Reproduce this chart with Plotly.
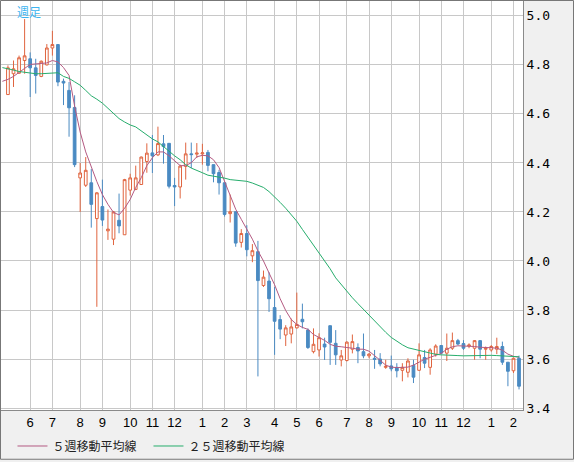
import pandas as pd
import plotly.graph_objects as go

# weekly candles (Friday dated)
opens = [4.679, 4.764, 4.766, 4.818, 4.825, 4.788, 4.753, 4.800, 4.869, 4.883,
         4.733, 4.696, 4.626, 4.339, 4.309, 4.319, 4.173, 4.222, 4.123, 4.089,
         4.166, 4.107, 4.289, 4.292, 4.312, 4.406, 4.441, 4.433, 4.478, 4.480,
         4.308, 4.302, 4.386, 4.437, 4.436, 4.437, 4.443, 4.393, 4.361, 4.319,
         4.193, 4.201, 4.076, 4.112, 4.021, 4.038, 3.900, 3.918, 3.810, 3.761,
         3.698, 3.702, 3.727, 3.762, 3.718, 3.630, 3.637, 3.661, 3.736, 3.664,
         3.596, 3.594, 3.640, 3.647, 3.630, 3.613, 3.603, 3.600, 3.566, 3.572,
         3.566, 3.554, 3.546, 3.574, 3.554, 3.606, 3.566, 3.620, 3.655, 3.624,
         3.644, 3.675, 3.663, 3.653, 3.644, 3.675, 3.640, 3.637, 3.640, 3.651,
         3.587, 3.552, 3.603]
highs = [4.798, 4.818, 4.838, 4.987, 4.851, 4.825, 4.818, 4.885, 4.939, 4.883,
         4.744, 4.730, 4.676, 4.400, 4.424, 4.375, 4.281, 4.332, 4.210, 4.204,
         4.275, 4.335, 4.356, 4.389, 4.426, 4.480, 4.514, 4.548, 4.514, 4.480,
         4.339, 4.393, 4.483, 4.483, 4.481, 4.478, 4.453, 4.393, 4.372, 4.319,
         4.271, 4.201, 4.130, 4.146, 4.069, 4.082, 3.961, 3.954, 3.894, 3.779,
         3.738, 3.765, 3.871, 3.826, 3.725, 3.725, 3.705, 3.687, 3.736, 3.718,
         3.637, 3.672, 3.700, 3.664, 3.704, 3.624, 3.637, 3.624, 3.597, 3.614,
         3.583, 3.583, 3.603, 3.597, 3.664, 3.637, 3.644, 3.660, 3.657, 3.704,
         3.708, 3.682, 3.677, 3.664, 3.677, 3.677, 3.651, 3.657, 3.687, 3.671,
         3.587, 3.606, 3.614]
lows = [4.678, 4.710, 4.764, 4.764, 4.669, 4.683, 4.750, 4.798, 4.838, 4.713,
        4.636, 4.507, 4.383, 4.200, 4.302, 4.136, 3.813, 4.143, 4.086, 4.065,
        4.113, 4.107, 4.267, 4.289, 4.312, 4.360, 4.359, 4.428, 4.397, 4.296,
        4.224, 4.255, 4.332, 4.379, 4.420, 4.393, 4.366, 4.321, 4.271, 4.181,
        4.157, 4.058, 4.055, 4.019, 3.995, 3.529, 3.894, 3.792, 3.617, 3.681,
        3.653, 3.664, 3.725, 3.725, 3.641, 3.623, 3.610, 3.596, 3.576, 3.576,
        3.570, 3.590, 3.623, 3.583, 3.603, 3.603, 3.560, 3.570, 3.560, 3.550,
        3.525, 3.509, 3.525, 3.502, 3.552, 3.563, 3.536, 3.610, 3.620, 3.592,
        3.637, 3.657, 3.637, 3.644, 3.597, 3.603, 3.597, 3.630, 3.620, 3.576,
        3.489, 3.543, 3.476]
closes = [4.788, 4.784, 4.829, 4.837, 4.788, 4.757, 4.815, 4.869, 4.883, 4.730,
          4.726, 4.625, 4.393, 4.359, 4.370, 4.231, 4.278, 4.167, 4.130, 4.200,
          4.143, 4.332, 4.339, 4.339, 4.424, 4.440, 4.429, 4.479, 4.467, 4.305,
          4.302, 4.387, 4.437, 4.434, 4.440, 4.441, 4.390, 4.356, 4.319, 4.190,
          4.201, 4.073, 4.112, 4.046, 4.042, 3.920, 3.934, 3.846, 3.754, 3.722,
          3.727, 3.731, 3.741, 3.752, 3.647, 3.660, 3.687, 3.649, 3.668, 3.617,
          3.613, 3.669, 3.671, 3.633, 3.613, 3.620, 3.599, 3.580, 3.570, 3.560,
          3.552, 3.566, 3.592, 3.526, 3.617, 3.583, 3.637, 3.653, 3.624, 3.644,
          3.675, 3.661, 3.644, 3.657, 3.675, 3.640, 3.644, 3.651, 3.651, 3.587,
          3.550, 3.603, 3.489]

# moving averages, one week longer (they start left of the first candle)
ma5 = [4.733, 4.741, 4.753, 4.769, 4.785, 4.802, 4.804, 4.806, 4.808, 4.818, 4.812,
       4.789, 4.757, 4.632, 4.526, 4.445, 4.381, 4.324, 4.271, 4.231, 4.198,
       4.188, 4.215, 4.251, 4.300, 4.340, 4.389, 4.421, 4.445, 4.445, 4.429,
       4.409, 4.389, 4.389, 4.401, 4.425, 4.431, 4.429, 4.413, 4.381, 4.324,
       4.263, 4.211, 4.170, 4.130, 4.089, 4.041, 4.000, 3.951, 3.903, 3.846,
       3.798, 3.761, 3.741, 3.729, 3.721, 3.700, 3.688, 3.676, 3.660, 3.652,
       3.650, 3.648, 3.644, 3.640, 3.640, 3.632, 3.615, 3.595, 3.575, 3.567,
       3.565, 3.565, 3.567, 3.575, 3.587, 3.599, 3.607, 3.615, 3.623, 3.640,
       3.650, 3.654, 3.654, 3.652, 3.651, 3.648, 3.648, 3.646, 3.644, 3.636,
       3.620, 3.611, 3.607]
ma25 = [4.789, 4.785, 4.779, 4.773, 4.769, 4.765, 4.764, 4.764, 4.765, 4.767, 4.768,
        4.753, 4.745, 4.731, 4.717, 4.696, 4.674, 4.660, 4.644, 4.623, 4.603,
        4.581, 4.567, 4.555, 4.547, 4.530, 4.514, 4.498, 4.486, 4.466, 4.445,
        4.429, 4.413, 4.393, 4.379, 4.368, 4.360, 4.350, 4.346, 4.344, 4.338,
        4.332, 4.330, 4.328, 4.325, 4.318, 4.308, 4.300, 4.283, 4.263, 4.239,
        4.215, 4.190, 4.162, 4.129, 4.097, 4.065, 4.032, 4.000, 3.968, 3.931,
        3.903, 3.874, 3.850, 3.826, 3.802, 3.777, 3.753, 3.729, 3.709, 3.688,
        3.672, 3.658, 3.646, 3.640, 3.634, 3.628, 3.624, 3.619, 3.617, 3.615,
        3.614, 3.614, 3.613, 3.614, 3.615, 3.615, 3.617, 3.615, 3.614, 3.613,
        3.611, 3.610, 3.609]

ma_dates = pd.date_range("2022-04-29", periods=len(ma5), freq="W-FRI")
dates = ma_dates[1:]

# gridline / label at the first candle of each month
tick_vals = []
tick_text = []
for i in range(1, len(dates)):
    if dates[i].month != dates[i - 1].month:
        tick_vals.append(dates[i])
        tick_text.append(str(dates[i].month))

RED = "#e0643f"
BLUE = "#4a8ac2"

fig = go.Figure()
fig.add_trace(go.Candlestick(
    x=dates, open=opens, high=highs, low=lows, close=closes,
    increasing=dict(line=dict(color=RED, width=1), fillcolor="white"),
    decreasing=dict(line=dict(color=BLUE, width=1), fillcolor=BLUE),
    whiskerwidth=0, showlegend=False, hoverinfo="skip",
))
fig.add_trace(go.Scatter(x=ma_dates, y=ma5, mode="lines", name="５週移動平均線",
                         line=dict(color="#b45a82", width=1)))
fig.add_trace(go.Scatter(x=ma_dates, y=ma25, mode="lines", name="２５週移動平均線",
                         line=dict(color="#26ad6c", width=1)))

W, H = 574, 462
ml, mr, mt, mb = 1, 51, 1, 50
pw, ph = W - ml - mr, H - mt - mb

fig.update_layout(
    width=W, height=H,
    margin=dict(l=ml, r=mr, t=mt, b=mb),
    paper_bgcolor="#f0f0f0",
    plot_bgcolor="white",
    font=dict(family="Liberation Sans", size=13, color="black"),
    legend=dict(orientation="h", x=0.022, y=-0.088, xanchor="left", yanchor="middle",
                font=dict(family="Noto Sans CJK JP", size=12, color="#222222"),
                itemwidth=30, entrywidth=91, entrywidthmode="pixels",
                bgcolor="rgba(0,0,0,0)"),
    xaxis=dict(
        type="date", range=["2022-04-27 06:00", "2024-02-14"],
        tickvals=tick_vals, ticktext=tick_text, ticks="",
        showgrid=True, gridcolor="#c8c8c8", gridwidth=1,
        showline=True, linecolor="#8a8a8a", linewidth=1,
        rangeslider=dict(visible=False), fixedrange=True,
        tickfont=dict(family="Liberation Sans", size=13),
    ),
    yaxis=dict(
        side="right", range=[3.392, 5.0607], tick0=3.4, dtick=0.2, tickformat=".1f",
        ticks="", showgrid=True, gridcolor="#c8c8c8", gridwidth=1, zeroline=False,
        showline=True, linecolor="#8a8a8a", linewidth=1, fixedrange=True,
        tickfont=dict(family="DejaVu Sans Mono", size=13),
    ),
    annotations=[dict(text="週足", xref="paper", yref="paper", x=14 / pw, y=1.0,
                      xanchor="left", yanchor="top", showarrow=False,
                      font=dict(family="Noto Sans CJK JP", size=12, color="#3cb4f0"))],
    shapes=[dict(type="rect", xref="paper", yref="paper",
                 x0=-0.5 / pw, x1=1 + (mr - 0.5) / pw,
                 y0=-(mb - 0.5) / ph, y1=1 + 0.5 / ph,
                 line=dict(color="#777777", width=1))],
)

# the page's default body margin would shift the figure by 8px
fig.write_html("out.html", config={"displayModeBar": False},
               post_script="document.body.style.margin='0';")
